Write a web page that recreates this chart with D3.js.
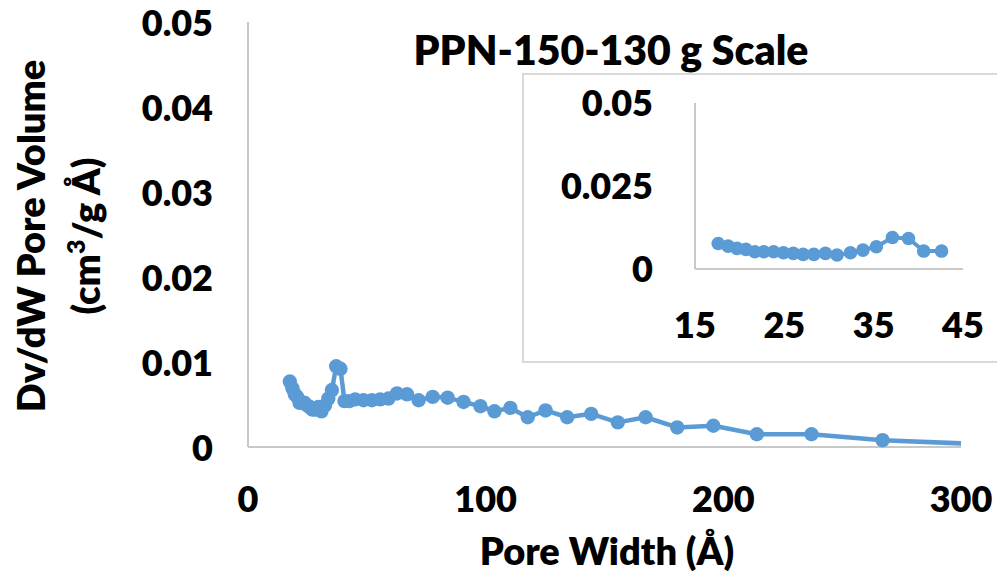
<!DOCTYPE html>
<html>
<head>
<meta charset="utf-8">
<script src="https://cdn.jsdelivr.net/npm/d3@7/dist/d3.min.js"></script>
<style>
  html, body { margin: 0; padding: 0; background: #ffffff; }
  svg { display: block; }
  text { font-family: Lato, "Open Sans", sans-serif; font-weight: 800; fill: #000000; }
</style>
</head>
<body>
<svg id="chart" width="997" height="581"></svg>
<script>
// Pore size distribution (DFT), PPN-150, 130 g batch
const poreWidth = [17.6, 18.7, 19.7, 20.7, 21.7, 22.7, 23.8, 24.9, 26.0, 27.1,
                   28.3, 29.6, 30.9, 32.4, 33.8, 35.3, 37.1, 38.9, 40.6, 42.6,
                   45.1, 48.6, 52.1, 55.6, 59.1, 62.7, 66.9, 71.8, 77.7, 84.0,
                   90.7, 97.8, 103.7, 110.4, 117.7, 125.2, 134.3, 144.4, 155.6, 167.3,
                   180.6, 195.8, 214.1, 237.1, 267.0, 320.0];
const poreVolume = [0.0077, 0.0069, 0.0062, 0.0059, 0.0052, 0.0052, 0.0052, 0.0049, 0.0047, 0.0044,
                    0.0044, 0.0047, 0.0042, 0.0049, 0.0057, 0.0067, 0.0095, 0.0092, 0.0054, 0.0054,
                    0.0056, 0.0055, 0.0055, 0.0056, 0.0057, 0.0063, 0.0062, 0.0055, 0.0059, 0.0058,
                    0.0053, 0.0048, 0.0042, 0.0046, 0.0035, 0.0043, 0.0035, 0.0039, 0.0029, 0.0035,
                    0.0023, 0.0025, 0.0015, 0.0015, 0.0008, 0.0002];

const mainXTicks = [0, 100, 200, 300];
const mainYTicks = [0, 0.01, 0.02, 0.03, 0.04, 0.05];
const insetXTicks = [15, 25, 35, 45];
const insetYTicks = [0, 0.025, 0.05];
const insetYLabels = ["0", "0.025", "0.05"];

const chartTitle = "PPN-150-130 g Scale";
const xTitle = "Pore Width (Å)";

const data = poreWidth.map((w, i) => ({ x: w, y: poreVolume[i] }));
const insetData = data.filter(d => d.x <= 45);

const blue = "#5B9BD5";
const axisGrey = "#c8c8c8";

const svg = d3.select("#chart");

// ---------- main plot ----------
const x = d3.scaleLinear().domain([0, 300]).range([248, 961]);
const y = d3.scaleLinear().domain([0, 0.05]).range([447, 22]);

svg.append("clipPath").attr("id", "mainClip")
  .append("rect").attr("x", 248).attr("y", 0).attr("width", 961 - 248).attr("height", 460);

// axis lines
svg.append("line").attr("x1", x(0)).attr("x2", x(0)).attr("y1", y(0.05)).attr("y2", y(0))
  .attr("stroke", axisGrey).attr("stroke-width", 2);
svg.append("line").attr("x1", x(0)).attr("x2", x(300)).attr("y1", y(0)).attr("y2", y(0))
  .attr("stroke", axisGrey).attr("stroke-width", 2);

// y tick labels
svg.append("g").selectAll("text").data(mainYTicks).join("text")
  .attr("x", 213).attr("y", d => y(d)).attr("dy", "0.39em")
  .attr("text-anchor", "end").attr("font-size", 36)
  .text(d => d3.format("")(d));

// x tick labels
svg.append("g").selectAll("text").data(mainXTicks).join("text")
  .attr("x", d => x(d)).attr("y", 499).attr("dy", "0.36em")
  .attr("text-anchor", "middle").attr("font-size", 36)
  .text(d => d);

const mainG = svg.append("g").attr("clip-path", "url(#mainClip)");
mainG.append("path").datum(data)
  .attr("fill", "none").attr("stroke", blue).attr("stroke-width", 4.5)
  .attr("stroke-linejoin", "round")
  .attr("d", d3.line().x(d => x(d.x)).y(d => y(d.y)));
mainG.selectAll("circle").data(data.filter(d => d.x <= 300)).join("circle")
  .attr("cx", d => x(d.x)).attr("cy", d => y(d.y)).attr("r", 7.2)
  .attr("fill", blue);

// axis titles
svg.append("text").attr("x", 607).attr("y", 565).attr("text-anchor", "middle")
  .attr("font-size", 38).text(xTitle);

const yTitle = svg.append("text").attr("transform", "translate(45,236) rotate(-90)")
  .attr("text-anchor", "middle").attr("font-size", 38);
yTitle.append("tspan").attr("x", 0).attr("y", 0).text("Dv/dW Pore Volume");
const l2 = yTitle.append("tspan").attr("x", 0).attr("y", 55);
l2.append("tspan").text("(cm");
l2.append("tspan").attr("font-size", 25).attr("dy", -15).text("3");
l2.append("tspan").attr("dy", 15).text("/g Å)");

// title
svg.append("text").attr("x", 611).attr("y", 65).attr("text-anchor", "middle")
  .attr("font-size", 41).text(chartTitle);

// ---------- inset ----------
svg.append("rect").attr("x", 523).attr("y", 74).attr("width", 500).attr("height", 288)
  .attr("fill", "#ffffff").attr("stroke", "#d9d9d9").attr("stroke-width", 2);

const xi = d3.scaleLinear().domain([15, 45]).range([695, 963]);
const yi = d3.scaleLinear().domain([0, 0.05]).range([269, 103]);

svg.append("line").attr("x1", xi(15)).attr("x2", xi(15)).attr("y1", yi(0.05)).attr("y2", yi(0))
  .attr("stroke", axisGrey).attr("stroke-width", 2);
svg.append("line").attr("x1", xi(15)).attr("x2", xi(45)).attr("y1", yi(0)).attr("y2", yi(0))
  .attr("stroke", axisGrey).attr("stroke-width", 2);

svg.append("g").selectAll("text").data(insetYTicks).join("text")
  .attr("x", 653).attr("y", d => yi(d)).attr("dy", "0.36em")
  .attr("text-anchor", "end").attr("font-size", 36)
  .text((d, i) => insetYLabels[i]);

svg.append("g").selectAll("text").data(insetXTicks).join("text")
  .attr("x", d => xi(d)).attr("y", 325).attr("dy", "0.36em")
  .attr("text-anchor", "middle").attr("font-size", 36)
  .text(d => d);

svg.append("path").datum(insetData)
  .attr("fill", "none").attr("stroke", blue).attr("stroke-width", 4)
  .attr("stroke-linejoin", "round")
  .attr("d", d3.line().x(d => xi(d.x)).y(d => yi(d.y)));
svg.append("g").selectAll("circle").data(insetData).join("circle")
  .attr("cx", d => xi(d.x)).attr("cy", d => yi(d.y)).attr("r", 6.8)
  .attr("fill", blue);
</script>
</body>
</html>
